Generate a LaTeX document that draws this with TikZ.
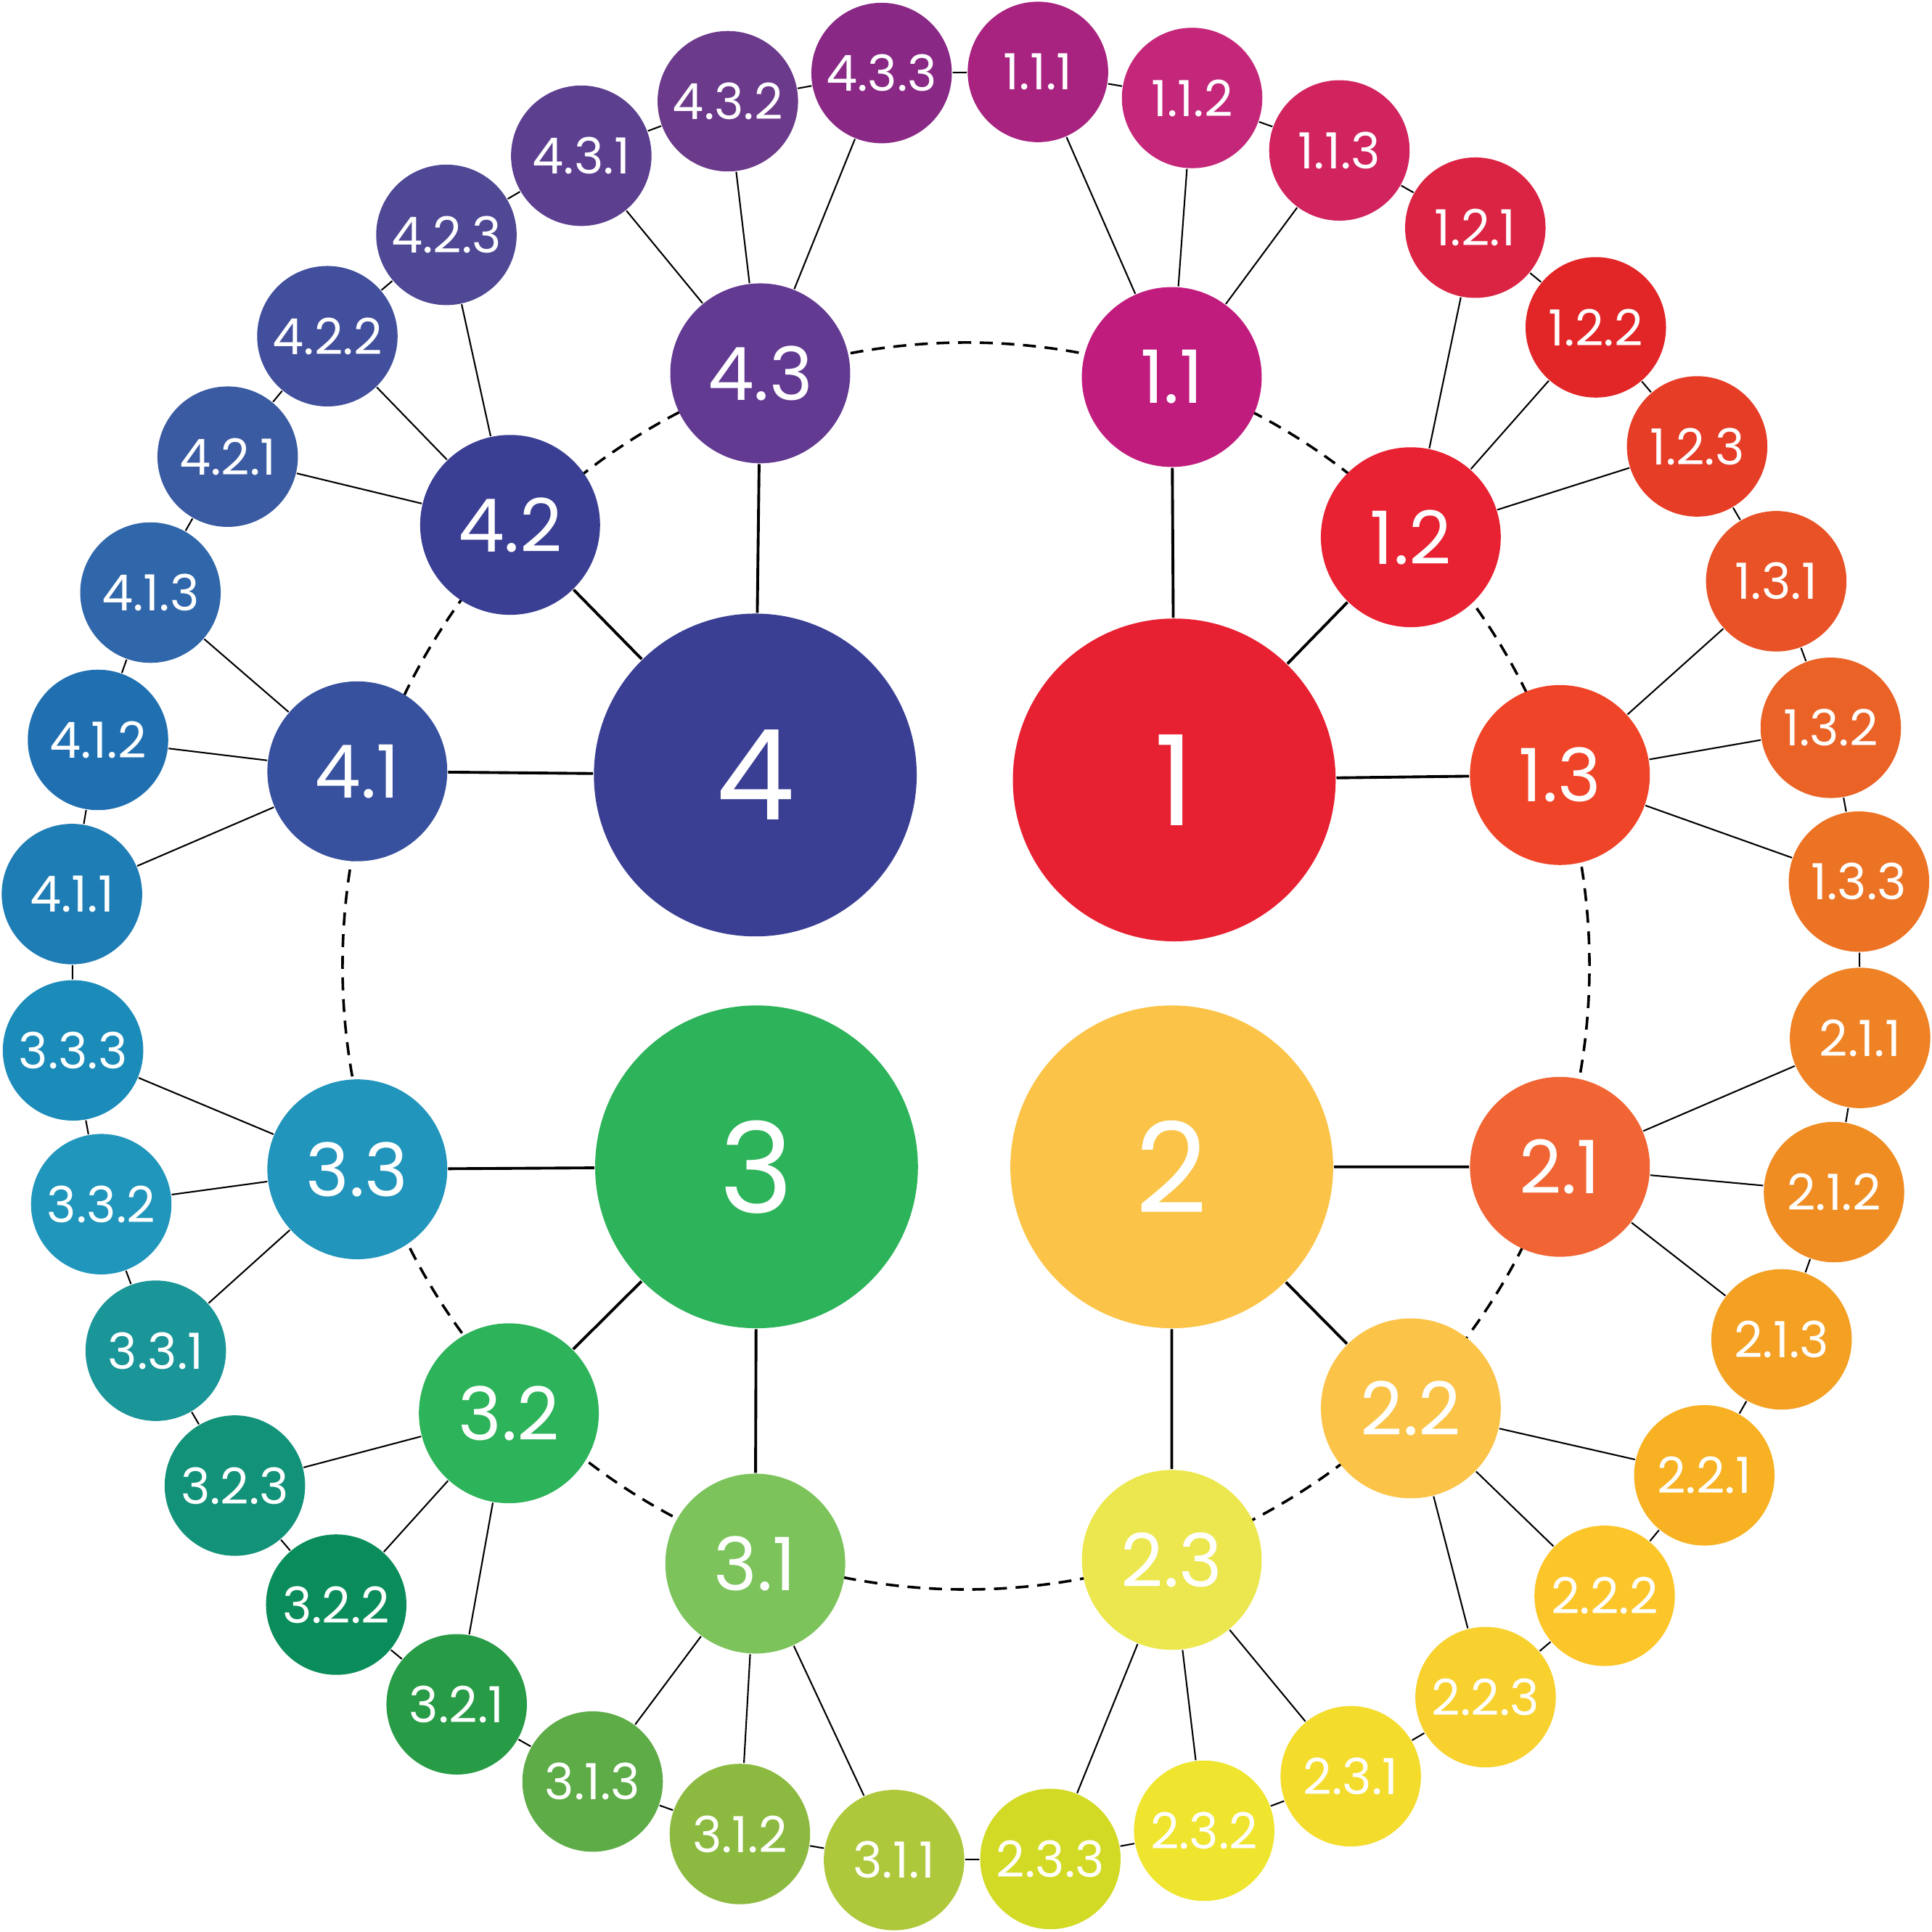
\documentclass[tikz,border=0pt]{standalone}
\usepackage{fontspec}
\setmainfont{Poppins}[Numbers=Monospaced]
\usetikzlibrary{positioning}
% quadrant 1
\definecolor{cA}{HTML}{E72131}
\definecolor{cAa}{HTML}{C01C7D}
\definecolor{cAb}{HTML}{E82232}
\definecolor{cAc}{HTML}{EF4428}
\definecolor{cAaa}{HTML}{A7237F}
\definecolor{cAab}{HTML}{C4277A}
\definecolor{cAac}{HTML}{D1245F}
\definecolor{cAba}{HTML}{DB2443}
\definecolor{cAbb}{HTML}{E22527}
\definecolor{cAbc}{HTML}{E63D27}
\definecolor{cAca}{HTML}{E85226}
\definecolor{cAcb}{HTML}{EA6226}
\definecolor{cAcc}{HTML}{ED7324}
% quadrant 2
\definecolor{cB}{HTML}{FBC448}
\definecolor{cBa}{HTML}{F16535}
\definecolor{cBb}{HTML}{FBC448}
\definecolor{cBc}{HTML}{ECE74E}
\definecolor{cBaa}{HTML}{EE8224}
\definecolor{cBab}{HTML}{EF8D23}
\definecolor{cBac}{HTML}{F3A023}
\definecolor{cBba}{HTML}{F7B122}
\definecolor{cBbb}{HTML}{FCC62A}
\definecolor{cBbc}{HTML}{F8D12F}
\definecolor{cBca}{HTML}{F4DC2D}
\definecolor{cBcb}{HTML}{EFE42E}
\definecolor{cBcc}{HTML}{D3DA26}
% quadrant 3
\definecolor{cC}{HTML}{2DB35A}
\definecolor{cCa}{HTML}{7CC35B}
\definecolor{cCb}{HTML}{2DB35A}
\definecolor{cCc}{HTML}{2295BC}
\definecolor{cCaa}{HTML}{AEC83B}
\definecolor{cCab}{HTML}{8CBA40}
\definecolor{cCac}{HTML}{5EAC47}
\definecolor{cCba}{HTML}{289B47}
\definecolor{cCbb}{HTML}{0A8D5A}
\definecolor{cCbc}{HTML}{13927A}
\definecolor{cCca}{HTML}{1A9598}
\definecolor{cCcb}{HTML}{2196BC}
\definecolor{cCcc}{HTML}{1B8CBA}
% quadrant 4
\definecolor{cD}{HTML}{3A3F93}
\definecolor{cDa}{HTML}{38519E}
\definecolor{cDb}{HTML}{3A3F93}
\definecolor{cDc}{HTML}{633A91}
\definecolor{cDaa}{HTML}{1F7DB5}
\definecolor{cDab}{HTML}{2070B1}
\definecolor{cDac}{HTML}{3066AA}
\definecolor{cDba}{HTML}{3A5AA2}
\definecolor{cDbb}{HTML}{424F9C}
\definecolor{cDbc}{HTML}{4E4895}
\definecolor{cDca}{HTML}{5D3F90}
\definecolor{cDcb}{HTML}{6C3A8A}
\definecolor{cDcc}{HTML}{892885}

\begin{document}
\begin{tikzpicture}[
  big/.style={circle,fill=#1,text=white,minimum size=2.62cm,inner sep=0pt,font=\fontsize{29}{29}\selectfont},
  mid/.style={circle,fill=#1,text=white,minimum size=1.46cm,inner sep=0pt,font=\fontsize{17}{17}\selectfont},
  leaf/.style={circle,fill=#1,text=white,minimum size=1.14cm,inner sep=0pt,font=\fontsize{11.5}{11.5}\selectfont},
  stem/.style={line width=0.65pt},
  twig/.style={line width=0.35pt},
  orbit/.style={line width=0.6pt,dash pattern=on 3pt off 2pt}]
\useasboundingbox (-7.84,-7.84) rectangle (7.84,7.84);
\coordinate (o) at (0,0);
\draw[orbit] (o) circle (5.06);

% big circles
\node[big=cA] (n1) at (1.69,1.51) {1};
\node[big=cB] (n2) at (1.67,-1.63) {2};
\node[big=cC] (n3) at (-1.70,-1.63) {3};
\node[big=cD] (n4) at (-1.71,1.55) {4};

% middle ring
\node[mid=cAa] (n11) at (1.67,4.78) {1.1};
\node[mid=cAb] (n12) at (3.61,3.48) {1.2};
\node[mid=cAc] (n13) at (4.82,1.55) {1.3};
\node[mid=cBa] (n21) at (4.82,-1.63) {2.1};
\node[mid=cBb] (n22) at (3.61,-3.59) {2.2};
\node[mid=cBc] (n23) at (1.67,-4.82) {2.3};
\node[mid=cCa] (n31) at (-1.71,-4.85) {3.1};
\node[mid=cCb] (n32) at (-3.71,-3.63) {3.2};
\node[mid=cCc] (n33) at (-4.94,-1.65) {3.3};
\node[mid=cDa] (n41) at (-4.94,1.58) {4.1};
\node[mid=cDb] (n42) at (-3.70,3.58) {4.2};
\node[mid=cDc] (n43) at (-1.67,4.81) {4.3};

% outer ring
\node[leaf=cAaa] (n111) at (85.4:7.28) {1.1.1};
\node[leaf=cAab] (n112) at (75.4:7.28) {1.1.2};
\node[leaf=cAac] (n113) at (65.4:7.28) {1.1.3};
\node[leaf=cAba] (n121) at (55.4:7.28) {1.2.1};
\node[leaf=cAbb] (n122) at (45.4:7.28) {1.2.2};
\node[leaf=cAbc] (n123) at (35.4:7.28) {1.2.3};
\node[leaf=cAca] (n131) at (25.4:7.28) {1.3.1};
\node[leaf=cAcb] (n132) at (15.4:7.28) {1.3.2};
\node[leaf=cAcc] (n133) at (5.4:7.28) {1.3.3};
\node[leaf=cBaa] (n211) at (-4.6:7.28) {2.1.1};
\node[leaf=cBab] (n212) at (-14.6:7.28) {2.1.2};
\node[leaf=cBac] (n213) at (-24.6:7.28) {2.1.3};
\node[leaf=cBba] (n221) at (-34.6:7.28) {2.2.1};
\node[leaf=cBbb] (n222) at (-44.6:7.28) {2.2.2};
\node[leaf=cBbc] (n223) at (-54.6:7.28) {2.2.3};
\node[leaf=cBca] (n231) at (-64.6:7.28) {2.3.1};
\node[leaf=cBcb] (n232) at (-74.6:7.28) {2.3.2};
\node[leaf=cBcc] (n233) at (-84.6:7.28) {2.3.3};
\node[leaf=cCaa] (n311) at (-94.6:7.28) {3.1.1};
\node[leaf=cCab] (n312) at (-104.6:7.28) {3.1.2};
\node[leaf=cCac] (n313) at (-114.6:7.28) {3.1.3};
\node[leaf=cCba] (n321) at (-124.6:7.28) {3.2.1};
\node[leaf=cCbb] (n322) at (-134.6:7.28) {3.2.2};
\node[leaf=cCbc] (n323) at (-144.6:7.28) {3.2.3};
\node[leaf=cCca] (n331) at (-154.6:7.28) {3.3.1};
\node[leaf=cCcb] (n332) at (-164.6:7.28) {3.3.2};
\node[leaf=cCcc] (n333) at (-174.6:7.28) {3.3.3};
\node[leaf=cDaa] (n411) at (175.4:7.28) {4.1.1};
\node[leaf=cDab] (n412) at (165.4:7.28) {4.1.2};
\node[leaf=cDac] (n413) at (155.4:7.28) {4.1.3};
\node[leaf=cDba] (n421) at (145.4:7.28) {4.2.1};
\node[leaf=cDbb] (n422) at (135.4:7.28) {4.2.2};
\node[leaf=cDbc] (n423) at (125.4:7.28) {4.2.3};
\node[leaf=cDca] (n431) at (115.4:7.28) {4.3.1};
\node[leaf=cDcb] (n432) at (105.4:7.28) {4.3.2};
\node[leaf=cDcc] (n433) at (95.4:7.28) {4.3.3};

% big to middle
\draw[stem] (n1) -- (n11) (n1) -- (n12) (n1) -- (n13);
\draw[stem] (n2) -- (n21) (n2) -- (n22) (n2) -- (n23);
\draw[stem] (n3) -- (n31) (n3) -- (n32) (n3) -- (n33);
\draw[stem] (n4) -- (n41) (n4) -- (n42) (n4) -- (n43);

% middle to outer
\draw[twig] (n11) -- (n111) (n11) -- (n112) (n11) -- (n113);
\draw[twig] (n12) -- (n121) (n12) -- (n122) (n12) -- (n123);
\draw[twig] (n13) -- (n131) (n13) -- (n132) (n13) -- (n133);
\draw[twig] (n21) -- (n211) (n21) -- (n212) (n21) -- (n213);
\draw[twig] (n22) -- (n221) (n22) -- (n222) (n22) -- (n223);
\draw[twig] (n23) -- (n231) (n23) -- (n232) (n23) -- (n233);
\draw[twig] (n31) -- (n311) (n31) -- (n312) (n31) -- (n313);
\draw[twig] (n32) -- (n321) (n32) -- (n322) (n32) -- (n323);
\draw[twig] (n33) -- (n331) (n33) -- (n332) (n33) -- (n333);
\draw[twig] (n41) -- (n411) (n41) -- (n412) (n41) -- (n413);
\draw[twig] (n42) -- (n421) (n42) -- (n422) (n42) -- (n423);
\draw[twig] (n43) -- (n431) (n43) -- (n432) (n43) -- (n433);

% outer chain
\draw[twig] (n111) -- (n112) -- (n113) -- (n121) -- (n122) -- (n123) -- (n131) -- (n132) -- (n133)
  -- (n211) -- (n212) -- (n213) -- (n221) -- (n222) -- (n223) -- (n231) -- (n232) -- (n233)
  -- (n311) -- (n312) -- (n313) -- (n321) -- (n322) -- (n323) -- (n331) -- (n332) -- (n333)
  -- (n411) -- (n412) -- (n413) -- (n421) -- (n422) -- (n423) -- (n431) -- (n432) -- (n433) -- (n111);
\end{tikzpicture}
\end{document}
